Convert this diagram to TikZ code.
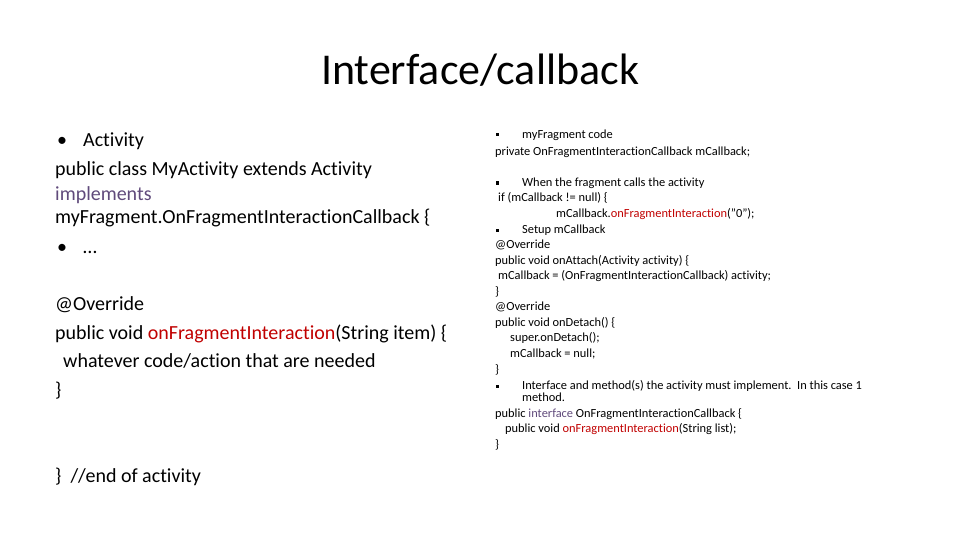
\documentclass[tikz,border=0pt]{standalone}
\usepackage{fontspec}
\setmainfont[Ligatures={NoCommon}]{Carlito}
\definecolor{kw}{RGB}{96,74,123}
\definecolor{fn}{RGB}{192,0,0}
\begin{document}
\begin{tikzpicture}[x=1pt,y=-1pt,
  L/.style={anchor=mid west,inner sep=0,font=\fontsize{20}{20}\selectfont},
  R/.style={anchor=mid west,inner sep=0,font=\fontsize{12.4}{12.4}\selectfont},
  sq/.style={fill=black}]
\useasboundingbox (0,0) rectangle (960,540);
\node[anchor=center,inner sep=0,font=\fontsize{44}{44}\selectfont] (title) at (480,70) {Interface/callback};
% left column
\node[L] (b1) at (57,144) {•};
\node[L] (l1) at (83,144) {Activity};
\node[L] (l2) at (55,173) {public class MyActivity extends Activity};
\node[L] (l3) at (55,198) {\textcolor{kw}{implements}};
\node[L] (l4) at (55,221) {myFragment.OnFragmentInteractionCallback \{};
\node[L] (b2) at (57,251) {•};
\node[L] (l5) at (83,251) {…};
\node[L] (l6) at (55,308) {@Override};
\node[L] (l7) at (55,337) {public void \textcolor{fn}{onFragmentInteraction}(String item) \{};
\node[L] (l8) at (63,365) {whatever code/action that are needed};
\node[L] (l9) at (55,394) {\}};
\node[L] (l10) at (55,480) {\}\ \ //end of activity};
% right column
\fill[sq] (496,133.5) rectangle +(3,3);
\node[R] (r1) at (522,136) {myFragment code};
\node[R] (r2) at (495,153) {private OnFragmentInteractionCallback mCallback;};
\fill[sq] (496,181.5) rectangle +(3,3);
\node[R] (r3) at (522,184) {When the fragment calls the activity};
\node[R] (r4) at (498,199) {if (mCallback != null) \{};
\node[R] (r5) at (556,215) {mCallback.\textcolor{fn}{onFragmentInteraction}("0");};
\fill[sq] (496,228.5) rectangle +(3,3);
\node[R] (r6) at (522,231) {Setup mCallback};
\node[R] (r7) at (495,246) {@Override};
\node[R] (r8) at (495,262) {public void onAttach(Activity activity) \{};
\node[R] (r9) at (498,277) {mCallback = (OnFragmentInteractionCallback) activity;};
\node[R] (r10) at (495,293) {\}};
\node[R] (r11) at (495,308) {@Override};
\node[R] (r12) at (495,324) {public void onDetach() \{};
\node[R] (r13) at (510,339) {super.onDetach();};
\node[R] (r14) at (510,355) {mCallback = null;};
\node[R] (r15) at (495,371) {\}};
\fill[sq] (496,384.5) rectangle +(3,3);
\node[R] (r16) at (522,387) {Interface and method(s) the activity must implement.\ \ In this case 1};
\node[R] (r17) at (522,399) {method.};
\node[R] (r18) at (495,415) {public \textcolor{kw}{interface} OnFragmentInteractionCallback \{};
\node[R] (r19) at (505,430) {public void \textcolor{fn}{onFragmentInteraction}(String list);};
\node[R] (r20) at (495,446) {\}};
\end{tikzpicture}
\end{document}
